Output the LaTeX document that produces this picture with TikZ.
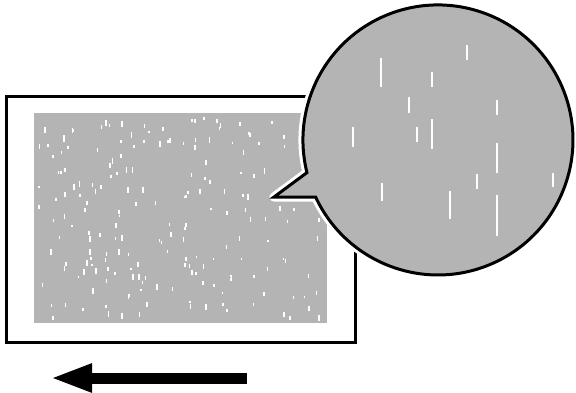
\documentclass[tikz,border=0pt]{standalone}
\usepackage{tikz}
\usetikzlibrary{
  arrows.meta,
  calc
}
\definecolor{SampleGray}{RGB}{180,180,180}
\tikzset{
  framebox/.style={draw=black,line width=3pt},
  samplebox/.style={fill=SampleGray},
  lens/.style={draw=black,line width=3pt,fill=SampleGray,line join=miter,preaction={draw=white,line width=9pt,line join=round}},
  speck/.style={draw=white,line width=1.6pt},
  longspeck/.style={draw=white,line width=1.8pt},
  movearrow/.style={-{Triangle[length=42pt,width=26pt]},line width=11pt,draw=black}
}

\begin{document}
\begin{tikzpicture}[x=1pt,y=-1pt]
\useasboundingbox (0,0) rectangle (576,392);
\draw[framebox] (6,96) rectangle (355,342);
\fill[samplebox] (34,113) rectangle (327,323);
\pgfmathsetseed{31}
\foreach \i in {1,...,200}{
  \pgfmathsetmacro{\sx}{38+285*rnd}
  \pgfmathsetmacro{\sy}{116+200*rnd}
  \pgfmathsetmacro{\sl}{2+4*rnd}
  \draw[speck] (\sx,\sy) -- ++(0,\sl);
}
\coordinate (tip) at (274,197);
\coordinate (lowjoin) at (315.6,197);
\draw[lens] (tip) -- (lowjoin) arc[start angle=155,end angle=-194,radius=135] -- cycle;
\foreach \x/\ya/\yb in {466.7/45/60,381/58/87,431.7/72/87,409.3/97/113,496.7/100/115,
  353.3/127/147,416.7/127/142,431.7/119/149,496.7/143/173,552.7/173/187,
  476.7/174/189,381.7/183/201,450/191/219,496.7/195/236}{
  \draw[longspeck] (\x,\ya) -- (\x,\yb);
}
\coordinate (arrowstart) at (247,378);
\coordinate (arrowend) at (50,378);
\draw[movearrow] (arrowstart) -- (arrowend);
\end{tikzpicture}
\end{document}
